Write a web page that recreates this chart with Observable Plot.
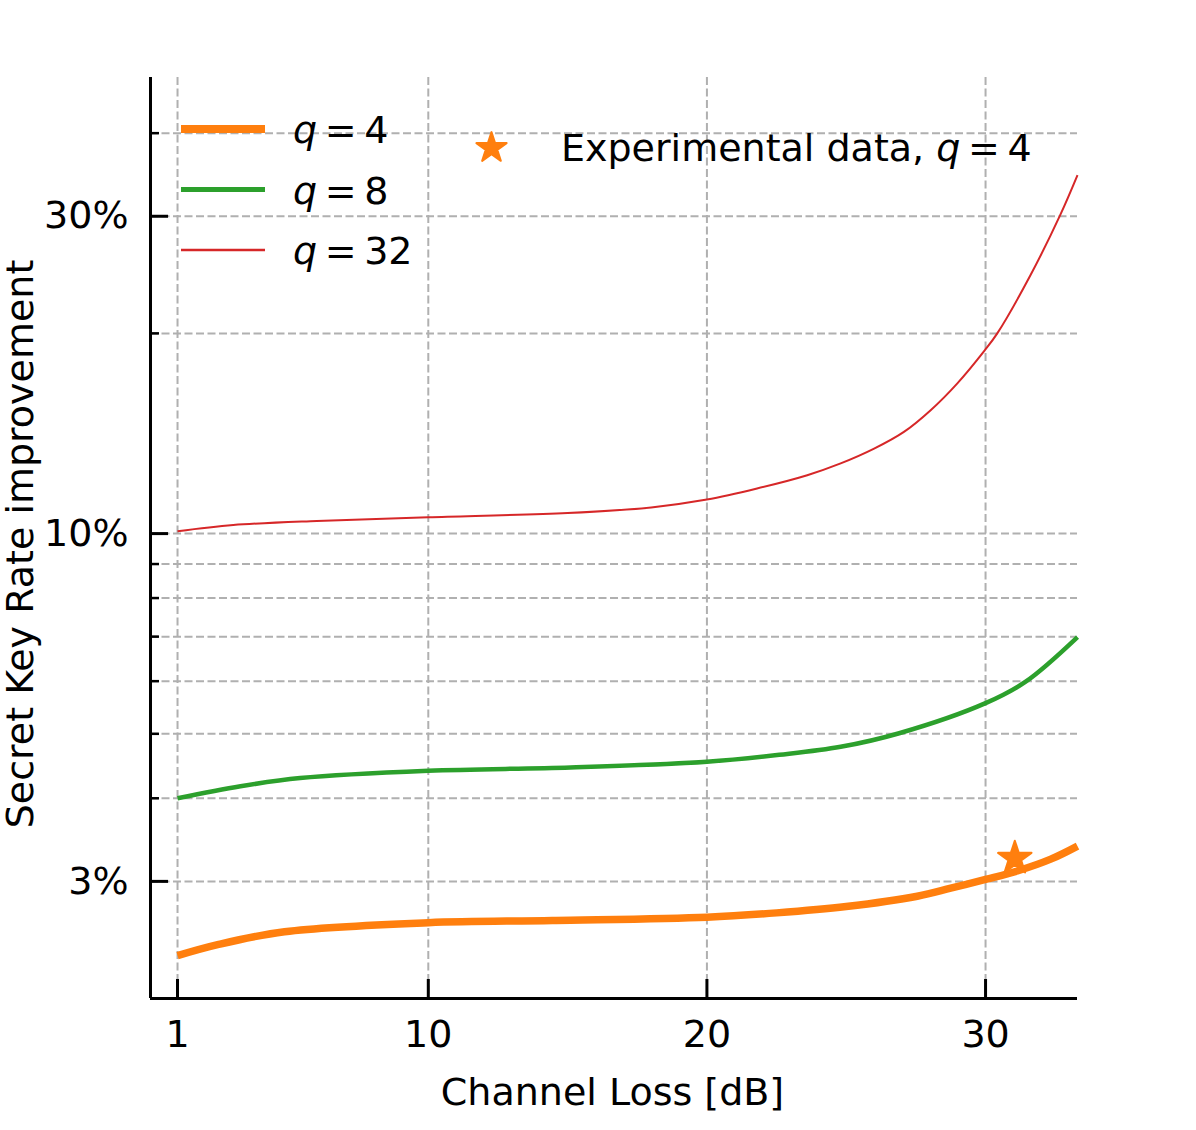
<!DOCTYPE html>
<html>
<head>
<meta charset="utf-8">
<script src="https://cdn.jsdelivr.net/npm/d3@7"></script>
<script src="https://cdn.jsdelivr.net/npm/@observablehq/plot@0.6"></script>
<style>
  html, body { margin: 0; padding: 0; background: white; }
  #chart svg { display: block; }
</style>
</head>
<body>
<div id="chart"></div>
<script>
// ---- data ----
const q4X  = [1, 2.44, 4.84, 10, 14.45, 20, 22.5, 25.0, 27.55, 28.75, 30, 31.14, 32.34, 33.3];
const q4Y  = [2.32, 2.41, 2.52, 2.60, 2.62, 2.65, 2.69, 2.75, 2.85, 2.93, 3.02, 3.11, 3.24, 3.39];

const q8X  = [1, 3.26, 5.4, 10, 15.1, 20, 22.6, 24.8, 26.9, 30, 31.44, 33.3];
const q8Y  = [4.00, 4.17, 4.29, 4.40, 4.45, 4.54, 4.65, 4.78, 5.01, 5.56, 5.99, 6.99];

const q32X = [1, 3, 6, 10, 15, 18, 20, 21.8, 23.6, 24.8, 26, 27.07, 28.03, 28.98, 29.97, 30.42, 31.62, 32.69, 33.3];
const q32Y = [10.08, 10.3, 10.45, 10.58, 10.74, 10.95, 11.25, 11.69, 12.24, 12.75, 13.42, 14.22, 15.33, 16.81, 18.86, 20.0, 24.5, 30.2, 34.6];

const expX = [31.05];
const expY = [3.25];

const xTicks = [1, 10, 20, 30];
const yMajorTicks = [3, 10, 30];
const yMinorTicks = [4, 5, 6, 7, 8, 9, 20, 40];
const yGridTicks = [3, 4, 5, 6, 7, 8, 9, 10, 20, 30, 40];

const seriesNames = ["q = 4", "q = 8", "q = 32"];
const seriesColors = ["#ff7f0e", "#2ca02c", "#d62728"];
const seriesWidths = [7.5, 4.5, 2];

const xLabel = "Channel Loss [dB]";
const yLabel = "Secret Key Rate improvement";
const expLabel = "Experimental data, ";

// ---- build tables ----
const toRows = (xs, ys) => xs.map((x, i) => ({x, y: ys[i]}));
const q4 = toRows(q4X, q4Y);
const q8 = toRows(q8X, q8Y);
const q32 = toRows(q32X, q32Y);
const exp = toRows(expX, expY);

const W = 1196, H = 1130;
const mL = 150, mR = 119, mT = 77, mB = 132;
const plotW = W - mL - mR, plotH = H - mT - mB;
const FONT = "DejaVu Sans";
const FS = 38;

const grid = {stroke: "#b0b0b0", strokeOpacity: 1, strokeWidth: 2, strokeDasharray: "8,3.5"};

const chart = Plot.plot({
  width: W,
  height: H,
  marginLeft: mL,
  marginRight: mR,
  marginTop: mT,
  marginBottom: mB,
  style: {fontFamily: FONT, fontSize: FS + "px", background: "white", color: "black", overflow: "visible"},
  x: {domain: [0.03, 33.3]},
  y: {type: "log", domain: [2.0, 48.5]},
  marks: [
    Plot.gridX(xTicks, grid),
    Plot.gridY(yGridTicks, grid),
    Plot.line(q4, {x: "x", y: "y", stroke: seriesColors[0], strokeWidth: seriesWidths[0], curve: "catmull-rom", strokeLinecap: "butt"}),
    Plot.line(q8, {x: "x", y: "y", stroke: seriesColors[1], strokeWidth: seriesWidths[1], curve: "catmull-rom", strokeLinecap: "butt"}),
    Plot.line(q32, {x: "x", y: "y", stroke: seriesColors[2], strokeWidth: seriesWidths[2], curve: "catmull-rom", strokeLinecap: "butt"}),
    Plot.dot(exp, {x: "x", y: "y", symbol: "star", r: 10.5, fill: seriesColors[0], stroke: seriesColors[0], strokeWidth: 2, strokeLinejoin: "round"}),
    // spines
    Plot.ruleX([0.03], {stroke: "black", strokeWidth: 3}),
    Plot.ruleY([2.0], {stroke: "black", strokeWidth: 3}),
    // inward ticks
    Plot.tickX(xTicks, {x: d => d, insetTop: plotH - 19, stroke: "black", strokeWidth: 3}),
    Plot.tickY(yMajorTicks, {y: d => d, insetRight: plotW - 18, stroke: "black", strokeWidth: 3}),
    Plot.tickY(yMinorTicks, {y: d => d, insetRight: plotW - 9, stroke: "black", strokeWidth: 2.5}),
    // tick labels
    Plot.axisX({ticks: xTicks, tickSize: 0, tickPadding: 22, fontSize: FS, label: null, tickFormat: d => String(d)}),
    Plot.axisY({ticks: yMajorTicks, tickSize: 0, tickPadding: 22, fontSize: FS, label: null, tickFormat: d => d + "%"})
  ]
});

document.getElementById("chart").appendChild(chart);

// ---- labels and legend ----
const svg = d3.select(chart);
const g = svg.append("g")
  .attr("font-family", FONT)
  .attr("font-size", FS)
  .attr("fill", "black")
  .attr("text-anchor", "start");

g.append("text")
  .attr("x", mL + plotW / 2 - 1)
  .attr("y", 1105)
  .attr("text-anchor", "middle")
  .text(xLabel);

g.append("text")
  .attr("transform", "translate(33,544) rotate(-90)")
  .attr("text-anchor", "middle")
  .text(yLabel);

const rowsY = [129, 189.5, 250];
seriesNames.forEach((name, i) => {
  g.append("line")
    .attr("x1", 181).attr("x2", 265)
    .attr("y1", rowsY[i]).attr("y2", rowsY[i])
    .attr("stroke", seriesColors[i])
    .attr("stroke-width", seriesWidths[i] + 0.5);
  const parts = name.split(" ");
  const t = g.append("text").attr("x", 293).attr("y", rowsY[i] + 14).attr("text-anchor", "start");
  t.append("tspan").attr("font-style", "italic").text(parts[0]);
  t.append("tspan").text("\u2009" + parts[1] + "\u2009" + parts[2]);
});

g.append("path")
  .attr("transform", "translate(491.5,148)")
  .attr("d", d3.symbol(d3.symbolStar, Math.PI * 9.5 * 9.5)())
  .attr("fill", seriesColors[0])
  .attr("stroke", seriesColors[0])
  .attr("stroke-width", 2)
  .attr("stroke-linejoin", "round");

const te = g.append("text").attr("x", 561).attr("y", 161).attr("text-anchor", "start");
te.append("tspan").text(expLabel);
te.append("tspan").attr("font-style", "italic").text("q");
te.append("tspan").text("\u2009=\u20094");
</script>
</body>
</html>
